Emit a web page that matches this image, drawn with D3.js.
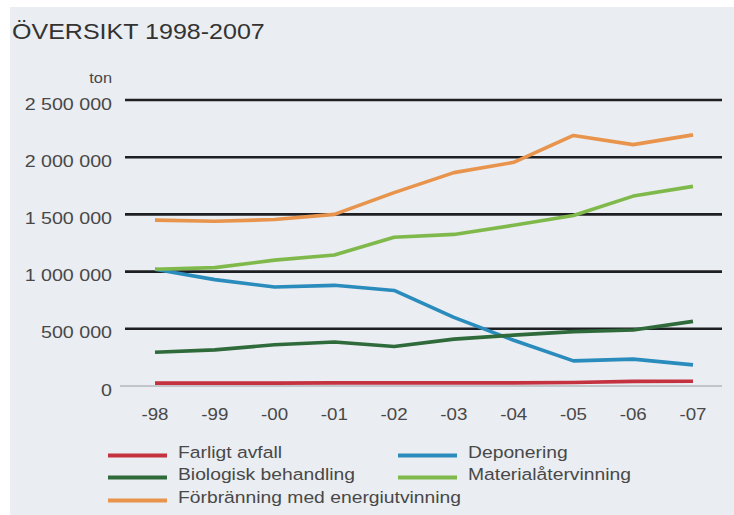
<!DOCTYPE html>
<html>
<head>
<meta charset="utf-8">
<script src="https://cdn.jsdelivr.net/npm/d3@7"></script>
<style>
  html, body { margin: 0; padding: 0; background: #ffffff; }
  svg { display: block; }
  text { font-family: "Liberation Sans", Arial, sans-serif; }
</style>
</head>
<body>
<svg id="chart" width="734" height="515"></svg>
<script>
// Years on the x axis
const years = ["-98", "-99", "-00", "-01", "-02", "-03", "-04", "-05", "-06", "-07"];

// Tonnes per year for each treatment method
const farligtAvfall        = [25000, 25000, 25000, 27000, 27000, 27000, 27000, 30000, 40000, 42000];
const deponering           = [1020000, 930000, 865000, 880000, 835000, 600000, 400000, 220000, 235000, 185000];
const biologiskBehandling  = [295000, 316000, 360000, 385000, 345000, 410000, 445000, 475000, 490000, 565000];
const materialatervinning  = [1020000, 1035000, 1100000, 1145000, 1300000, 1325000, 1405000, 1490000, 1660000, 1745000];
const forbranning          = [1450000, 1440000, 1455000, 1500000, 1690000, 1865000, 1955000, 2190000, 2110000, 2195000];

// y-axis ticks
const yTicks = [0, 500000, 1000000, 1500000, 2000000, 2500000];

const seriesNames  = ["Farligt avfall", "Deponering", "Biologisk behandling", "Materialåtervinning", "Förbränning med energiutvinning"];
const seriesValues = [farligtAvfall, deponering, biologiskBehandling, materialatervinning, forbranning];
const seriesColors = ["#c4313f", "#2a8bbd", "#2f6a3b", "#80b94b", "#e8944c"];

const SX = 1.17; // horizontal text stretch

const svg = d3.select("#chart");

// panel background
svg.append("rect").attr("x", 10).attr("y", 7).attr("width", 724).attr("height", 508).attr("fill", "#eaedf1");

const x = d3.scalePoint().domain(years).range([155, 693]);
const y = d3.scaleLinear().domain([0, 2500000]).range([386, 100]);

const locale = d3.formatLocale({ decimal: ",", thousands: " ", grouping: [3], currency: ["", ""] });
const fmt = locale.format(",d");

function place(sel, px, py) {
  return sel.attr("transform", `translate(${px},${py}) scale(${SX},1)`);
}

// title
place(svg.append("text"), 12, 39)
  .attr("font-size", 21.4).attr("fill", "#333").text("ÖVERSIKT 1998-2007");

// unit
place(svg.append("text"), 112, 83)
  .attr("font-size", 14).attr("fill", "#484848").attr("text-anchor", "end").text("ton");

// gridlines
const grid = svg.append("g");
grid.selectAll("line").data(yTicks).join("line")
  .attr("x1", d => d === 0 ? 120 : 125).attr("x2", 722)
  .attr("y1", d => y(d)).attr("y2", d => y(d))
  .attr("stroke", d => d === 0 ? "#9a9ea3" : "#1e1f22")
  .attr("stroke-width", d => d === 0 ? 1.2 : 2.6);

// y tick labels
svg.append("g").selectAll("text").data(yTicks).join("text")
  .each(function (d) { place(d3.select(this), 112, y(d) + 9.5); })
  .attr("font-size", 16.8).attr("fill", "#484848").attr("text-anchor", "end")
  .text(d => fmt(d));

// x tick labels
svg.append("g").selectAll("text").data(years).join("text")
  .each(function (d) { place(d3.select(this), x(d), 420); })
  .attr("font-size", 16).attr("fill", "#484848").attr("text-anchor", "middle")
  .text(d => d);

// series lines
const line = d3.line().x((d, i) => x(years[i])).y(d => y(d));
const drawOrder = [0, 1, 2, 3, 4];
svg.append("g").selectAll("path").data(drawOrder).join("path")
  .attr("d", i => line(seriesValues[i]))
  .attr("fill", "none")
  .attr("stroke", i => seriesColors[i])
  .attr("stroke-width", 3.6)
  .attr("stroke-linejoin", "round")
  .attr("stroke-linecap", "butt");

// legend
const legendPos = [
  { sx: 108, tx: 178, by: 458 },
  { sx: 398, tx: 468, by: 458 },
  { sx: 108, tx: 178, by: 480 },
  { sx: 398, tx: 468, by: 480 },
  { sx: 108, tx: 178, by: 503 }
];
const legend = svg.append("g");
seriesNames.forEach((name, i) => {
  const p = legendPos[i];
  legend.append("line")
    .attr("x1", p.sx).attr("x2", p.sx + 59)
    .attr("y1", p.by - 2.5).attr("y2", p.by - 2.5)
    .attr("stroke", seriesColors[i]).attr("stroke-width", 4);
  place(legend.append("text"), p.tx, p.by)
    .attr("font-size", 16.5).attr("fill", "#484848").text(name);
});
</script>
</body>
</html>
